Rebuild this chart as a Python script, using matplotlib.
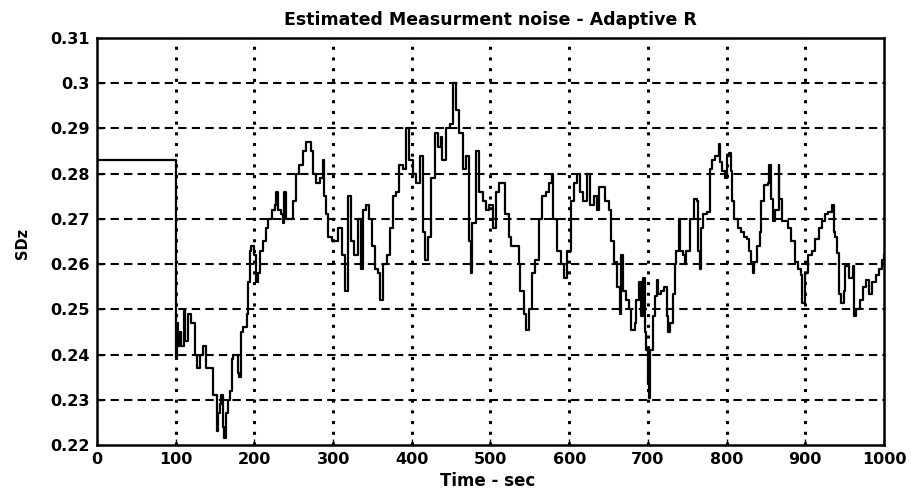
import matplotlib
matplotlib.use("Agg")
import matplotlib.pyplot as plt

plt.rcParams['font.family'] = ['DejaVu Sans']

title = "Estimated Measurment noise - Adaptive R"
xlabel = "Time - sec"
ylabel = "SDz"
xticks = [0, 100, 200, 300, 400, 500, 600, 700, 800, 900, 1000]
yticks = [0.22, 0.23, 0.24, 0.25, 0.26, 0.27, 0.28, 0.29, 0.30, 0.31]
ytick_labels = ["0.22", "0.23", "0.24", "0.25", "0.26", "0.27", "0.28", "0.29", "0.3", "0.31"]

time_s = [
    0, 100, 102, 103, 105, 107, 110, 112, 116, 120, 125, 127, 131, 135, 139, 143,
    148, 152, 154, 156, 158, 160, 162, 164, 166, 169, 171, 173, 177, 179, 181, 183,
    186, 190, 192, 194, 196, 200, 202, 204, 207, 211, 215, 217, 222, 226, 228, 230,
    234, 236, 238, 240, 245, 249, 253, 257, 262, 266, 270, 272, 274, 278, 283, 287,
    289, 291, 293, 298, 302, 306, 311, 315, 319, 323, 327, 332, 336, 338, 342, 346,
    349, 353, 357, 359, 363, 368, 372, 376, 380, 384, 389, 393, 397, 401, 405, 410,
    414, 417, 420, 424, 429, 433, 437, 439, 443, 448, 452, 456, 460, 465, 469, 473,
    475, 477, 481, 486, 490, 494, 498, 503, 507, 511, 515, 519, 524, 526, 536, 538,
    543, 545, 549, 553, 557, 562, 566, 570, 574, 578, 580, 585, 589, 593, 597, 602,
    606, 610, 614, 618, 623, 627, 631, 635, 638, 642, 646, 650, 653, 657, 661, 664,
    666, 668, 672, 676, 679, 683, 685, 689, 691, 694, 696, 698, 700, 701, 703, 706,
    709, 711, 713, 717, 721, 724, 726, 728, 732, 734, 736, 739, 741, 745, 747, 749,
    754, 758, 762, 764, 766, 768, 770, 775, 779, 781, 785, 790, 792, 794, 798, 800,
    803, 805, 807, 809, 814, 818, 822, 826, 829, 831, 833, 835, 839, 842, 844, 848,
    852, 854, 857, 859, 861, 866, 867, 870, 874, 878, 882, 887, 891, 895, 896, 900,
    904, 908, 912, 917, 921, 925, 929, 934, 936, 938, 940, 943, 945, 949, 951, 955,
    960, 962, 964, 969, 973, 977, 981, 985, 990, 994, 998, 1000,
]

sdz = [
    0.283, 0.2395, 0.247, 0.242, 0.245, 0.242, 0.250, 0.243, 0.249, 0.247, 0.240, 0.237,
    0.240, 0.242, 0.237, 0.237, 0.231, 0.223, 0.227, 0.229, 0.231, 0.224, 0.2215, 0.227,
    0.230, 0.232, 0.239, 0.240, 0.240, 0.236, 0.235, 0.245, 0.246, 0.249, 0.256, 0.263,
    0.264, 0.262, 0.256, 0.258, 0.263, 0.265, 0.268, 0.270, 0.272, 0.273, 0.276, 0.272,
    0.271, 0.269, 0.276, 0.270, 0.270, 0.274, 0.280, 0.282, 0.285, 0.287, 0.287, 0.285,
    0.280, 0.278, 0.279, 0.283, 0.275, 0.271, 0.266, 0.265, 0.265, 0.268, 0.262, 0.254,
    0.275, 0.265, 0.262, 0.270, 0.259, 0.272, 0.273, 0.270, 0.264, 0.259, 0.258, 0.252,
    0.260, 0.262, 0.268, 0.275, 0.276, 0.282, 0.281, 0.290, 0.283, 0.280, 0.278, 0.284,
    0.267, 0.261, 0.266, 0.279, 0.289, 0.286, 0.288, 0.283, 0.290, 0.291, 0.300, 0.294,
    0.289, 0.281, 0.284, 0.265, 0.258, 0.269, 0.285, 0.276, 0.274, 0.272, 0.273, 0.268,
    0.276, 0.278, 0.278, 0.271, 0.266, 0.264, 0.260, 0.254, 0.249, 0.2455, 0.250, 0.258,
    0.261, 0.270, 0.275, 0.276, 0.278, 0.280, 0.270, 0.263, 0.260, 0.257, 0.263, 0.274,
    0.278, 0.280, 0.276, 0.274, 0.280, 0.273, 0.275, 0.272, 0.277, 0.277, 0.274, 0.272,
    0.265, 0.2605, 0.255, 0.249, 0.262, 0.254, 0.252, 0.250, 0.2455, 0.247, 0.252, 0.256,
    0.2485, 0.257, 0.245, 0.241, 0.2335, 0.2305, 0.241, 0.2485, 0.253, 0.2565, 0.2535, 0.254,
    0.255, 0.2485, 0.245, 0.247, 0.2535, 0.260, 0.263, 0.270, 0.263, 0.262, 0.260, 0.263,
    0.270, 0.2745, 0.274, 0.263, 0.259, 0.268, 0.271, 0.2715, 0.281, 0.283, 0.284, 0.2865,
    0.2825, 0.2805, 0.279, 0.284, 0.2845, 0.2805, 0.274, 0.270, 0.268, 0.267, 0.266, 0.2655,
    0.263, 0.2605, 0.258, 0.2605, 0.264, 0.267, 0.274, 0.2775, 0.278, 0.282, 0.2745, 0.2695,
    0.272, 0.282, 0.2745, 0.2695, 0.2695, 0.268, 0.265, 0.2605, 0.259, 0.2575, 0.2515, 0.258,
    0.262, 0.263, 0.2655, 0.268, 0.2695, 0.271, 0.2715, 0.273, 0.267, 0.266, 0.2625, 0.2535,
    0.2515, 0.254, 0.2595, 0.257, 0.2595, 0.2485, 0.250, 0.252, 0.255, 0.2565, 0.2535, 0.256,
    0.2575, 0.259, 0.261, 0.262,
]

fig = plt.figure(figsize=(9.11, 4.91), dpi=100)
ax = fig.add_axes([97 / 911, 1 - 445 / 491, 787 / 911, 407 / 491])

ax.step(time_s, sdz, where='post', color='black', linewidth=1.6)

ax.set_xlim(0, 1000)
ax.set_ylim(0.22, 0.31)
ax.set_xticks(xticks)
ax.set_yticks(yticks)
ax.set_yticklabels(ytick_labels)
ax.tick_params(direction='in', length=4, width=1, labelsize=11.5, pad=5, colors='black')
for lab in ax.get_xticklabels() + ax.get_yticklabels():
    lab.set_fontweight('bold')

for xv in xticks[1:-1]:
    ax.axvline(xv, color='black', linestyle=(0, (1, 2.5)), linewidth=2.2, zorder=1)
for yv in yticks[1:-1]:
    ax.axhline(yv, color='black', linestyle=(0, (4, 2.5)), linewidth=1.5, zorder=1)

for sp in ax.spines.values():
    sp.set_linewidth(1.8)
    sp.set_color('black')

fig.text(490 / 911, 1 - 20 / 491, title, ha='center', va='center', fontsize=12.5, fontweight='bold')
fig.text(488 / 911, 1 - 481 / 491, xlabel, ha='center', va='center', fontsize=12, fontweight='bold')
fig.text(23 / 911, 1 - 243 / 491, ylabel, ha='center', va='center', fontsize=10.5,
         fontweight='bold', rotation=90)

fig.savefig("out.png", dpi=100)
